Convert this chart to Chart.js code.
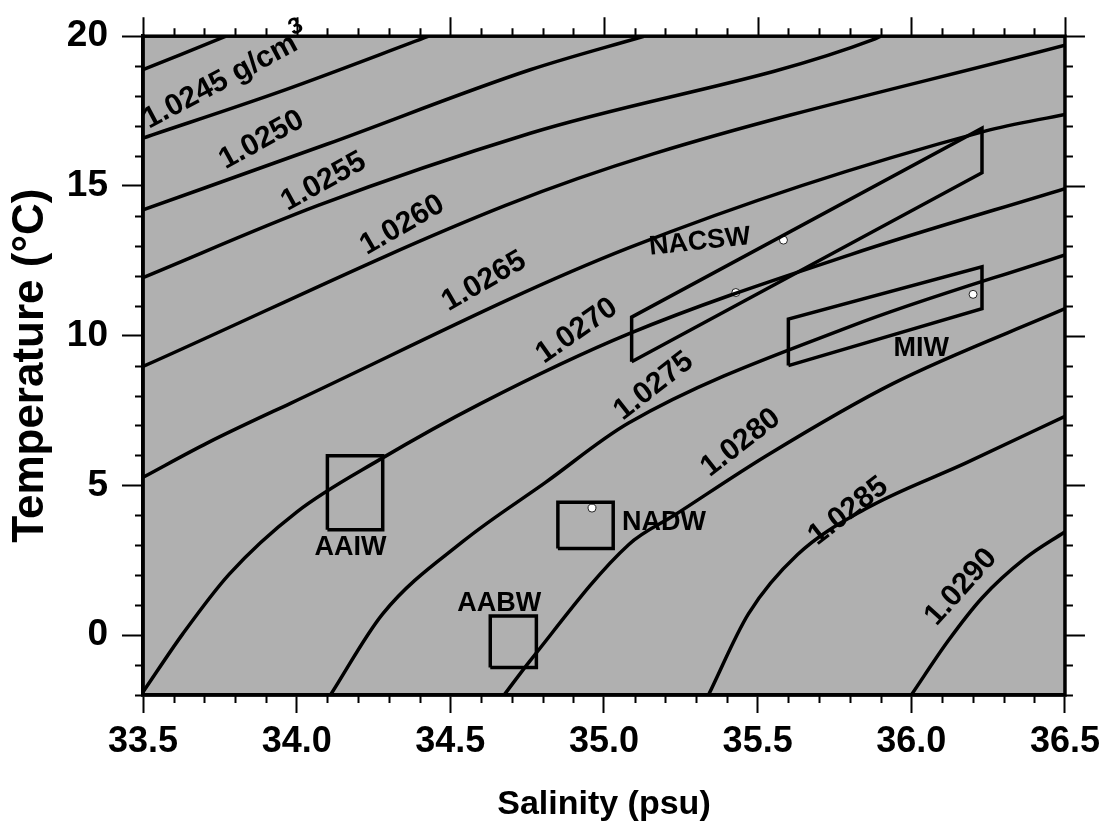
<!DOCTYPE html>
<html>
<head>
<meta charset="utf-8">
<script src="https://cdn.jsdelivr.net/npm/chart.js@4.4.1/dist/chart.umd.min.js"></script>
<style>
html,body{margin:0;padding:0;background:#fff;}
#wrap{width:1107px;height:830px;position:relative;}
</style>
</head>
<body>
<div id="wrap"><canvas id="c" width="1107" height="830"></canvas></div>
<script>
// ---- axis ticks ----
const xTickValues = [33.5, 34.0, 34.5, 35.0, 35.5, 36.0, 36.5];
const xTickLabels = ['33.5', '34.0', '34.5', '35.0', '35.5', '36.0', '36.5'];
const yTickValues = [0, 5, 10, 15, 20];
const yTickLabels = ['0', '5', '10', '15', '20'];

// ---- isopycnals: [salinity, temperature] ----
const iso10240 = [[33.5, 18.88], [33.77, 20.0]];
const iso10245 = [[33.5, 16.6], [33.96, 18.2], [34.43, 20.0]];
const iso10250 = [[33.5, 14.2], [34.1, 16.4], [34.76, 18.88], [35.13, 20.0]];
const iso10255 = [[33.5, 11.94], [34.07, 14.35], [34.76, 16.76], [35.88, 19.9], [35.9, 20.0]];
const iso10260 = [[33.5, 8.97], [34.68, 14.35], [35.16, 16.07], [36.5, 19.7]];
const iso10265 = [[33.5, 5.27], [33.71, 6.42], [33.98, 7.74], [35.08, 12.93], [36.24, 16.83], [36.5, 17.39]];
const iso10270 = [[33.5, -1.9], [33.63, 0.05], [33.78, 2.03], [34.0, 4.11], [34.27, 5.86], [34.6, 7.74], [35.08, 10.06], [35.8, 12.7], [36.5, 14.91]];
const iso10275 = [[34.11, -2.0], [34.28, 0.71], [34.54, 3.12], [34.81, 5.1], [35.08, 7.08], [35.8, 10.3], [36.5, 12.7]];
const iso10280 = [[34.675, -2.0], [34.76, -0.85], [35.08, 3.02], [35.23, 4.01], [35.53, 6.0], [35.94, 8.4], [36.5, 10.9]];
const iso10285 = [[35.34, -2.0], [35.47, 0.71], [35.63, 2.69], [35.85, 4.21], [36.18, 5.76], [36.5, 7.31]];
const iso10290 = [[36.0, -2.0], [36.12, -0.19], [36.23, 1.24], [36.37, 2.56], [36.5, 3.45]];
const isopycnals = [iso10240, iso10245, iso10250, iso10255, iso10260, iso10265, iso10270, iso10275, iso10280, iso10285, iso10290];

// ---- water mass boxes: [salinity, temperature] corners ----
const boxAAIW = [[34.1, 3.52], [34.1, 5.99], [34.28, 5.99], [34.28, 3.52]];
const boxAABW = [[34.63, -1.08], [34.63, 0.64], [34.78, 0.64], [34.78, -1.08]];
const boxNADW = [[34.85, 2.89], [34.85, 4.44], [35.03, 4.44], [35.03, 2.89]];
const boxNACSW = [[35.09, 9.13], [35.09, 10.62], [36.23, 16.93], [36.23, 15.44]];
const boxMIW = [[35.6, 9.0], [35.6, 10.55], [36.23, 12.3], [36.23, 10.9]];
const waterBoxes = [boxAAIW, boxAABW, boxNADW, boxNACSW, boxMIW];

// ---- small white sample marks seen in the figure ----
const sampleMarks = [[35.584, 13.19], [35.429, 11.44], [34.961, 4.24], [36.201, 11.38]];

// ---- text annotations (data coordinates) ----
const contourLabels = [
  {text: '1.0245 g/cm', sup: '3', s: 33.77, t: 18.58, angle: 28},
  {text: '1.0250', s: 33.886, t: 16.53, angle: 29},
  {text: '1.0255', s: 34.088, t: 15.14, angle: 29},
  {text: '1.0260', s: 34.344, t: 13.69, angle: 30},
  {text: '1.0265', s: 34.61, t: 11.81, angle: 30},
  {text: '1.0270', s: 34.912, t: 10.16, angle: 35},
  {text: '1.0275', s: 35.162, t: 8.31, angle: 38},
  {text: '1.0280', s: 35.445, t: 6.42, angle: 38},
  {text: '1.0285', s: 35.795, t: 4.14, angle: 38},
  {text: '1.0290', s: 36.162, t: 1.60, angle: 48}
];
const waterLabels = [
  {text: 'NACSW', s: 35.312, t: 13.13, angle: 6},
  {text: 'MIW', s: 36.032, t: 9.56, angle: 0},
  {text: 'AAIW', s: 34.175, t: 2.92, angle: 0},
  {text: 'NADW', s: 35.195, t: 3.75, angle: 0},
  {text: 'AABW', s: 34.659, t: 1.07, angle: 0}
];

const FONT = "'Liberation Sans', Arial, Helvetica, sans-serif";
const PLOT_BG = '#b0b0b0';

const toPts = arr => arr.map(([s, t]) => ({x: s, y: t}));

const datasets = [];
isopycnals.forEach(arr => datasets.push({
  data: toPts(arr), showLine: true, borderColor: '#000', borderWidth: 3.5,
  pointRadius: 0, cubicInterpolationMode: 'monotone', fill: false
}));
waterBoxes.forEach(arr => datasets.push({
  data: toPts(arr.concat([arr[0]])), showLine: true, borderColor: '#000', borderWidth: 3.5,
  pointRadius: 0, tension: 0, fill: false
}));
datasets.push({
  data: toPts(sampleMarks), showLine: false, pointRadius: 4,
  pointBackgroundColor: '#fff', pointBorderColor: '#222', pointBorderWidth: 1
});

const decorPlugin = {
  id: 'decor',
  beforeDraw(chart) {
    const {ctx, chartArea: a} = chart;
    ctx.save();
    ctx.fillStyle = PLOT_BG;
    ctx.fillRect(a.left, a.top, a.right - a.left, a.bottom - a.top);
    ctx.restore();
  },
  afterDatasetsDraw(chart) {
    const {ctx, scales: {x, y}} = chart;
    ctx.save();
    ctx.fillStyle = '#000';
    ctx.textAlign = 'center';
    ctx.textBaseline = 'middle';
    contourLabels.forEach(l => {
      const px = x.getPixelForValue(l.s), py = y.getPixelForValue(l.t);
      ctx.save();
      ctx.translate(px, py);
      ctx.rotate(-l.angle * Math.PI / 180);
      ctx.font = 'bold 30px ' + FONT;
      if (l.sup) {
        const w = ctx.measureText(l.text).width;
        ctx.font = 'bold 23px ' + FONT;
        const ws = ctx.measureText(l.sup).width;
        const total = w + ws;
        ctx.textAlign = 'left';
        ctx.font = 'bold 30px ' + FONT;
        ctx.fillText(l.text, -total / 2, 0);
        ctx.font = 'bold 23px ' + FONT;
        ctx.fillText(l.sup, -total / 2 + w + 1, -13);
      } else {
        ctx.fillText(l.text, 0, 0);
      }
      ctx.restore();
    });
    ctx.font = 'bold 27px ' + FONT;
    waterLabels.forEach(l => {
      const px = x.getPixelForValue(l.s), py = y.getPixelForValue(l.t);
      ctx.save();
      ctx.translate(px, py);
      ctx.rotate(-l.angle * Math.PI / 180);
      ctx.fillText(l.text, 0, 0);
      ctx.restore();
    });
    ctx.restore();
  },
  afterDraw(chart) {
    const {ctx, chartArea: a, scales: {x, y}} = chart;
    ctx.save();
    ctx.strokeStyle = '#000';
    ctx.lineWidth = 3.5;
    ctx.strokeRect(a.left, a.top, a.right - a.left, a.bottom - a.top);
    ctx.lineWidth = 2;
    ctx.beginPath();
    for (let i = 0; i <= 30; i++) {
      const v = 33.5 + i * 0.1;
      const px = Math.round(x.getPixelForValue(v)) + 0.5;
      const major = i % 5 === 0;
      if (!major) { ctx.moveTo(px, a.bottom); ctx.lineTo(px, a.bottom + 8); }
      ctx.moveTo(px, a.top); ctx.lineTo(px, a.top - (major ? 19 : 8));
    }
    for (let v = -2; v <= 20; v++) {
      const py = Math.round(y.getPixelForValue(v)) + 0.5;
      const major = v % 5 === 0;
      if (!major) { ctx.moveTo(a.left, py); ctx.lineTo(a.left - 8, py); }
      ctx.moveTo(a.right, py); ctx.lineTo(a.right + (major ? 20 : 8), py);
    }
    ctx.stroke();
    ctx.restore();
  }
};

new Chart(document.getElementById('c'), {
  type: 'scatter',
  data: {datasets},
  options: {
    responsive: false,
    animation: false,
    devicePixelRatio: 1,
    layout: {padding: {top: 29, right: 40, bottom: 0, left: 0}},
    plugins: {legend: {display: false}, tooltip: {enabled: false}},
    scales: {
      x: {
        type: 'linear', position: 'bottom', min: 33.5, max: 36.5,
        afterFit: s => { s.height = 135; },
        afterBuildTicks: s => { s.ticks = xTickValues.map(v => ({value: v})); },
        ticks: {
          autoSkip: false, maxRotation: 0, padding: 7, color: '#000',
          font: {family: FONT, size: 36, weight: 'bold'},
          callback: v => xTickLabels[xTickValues.indexOf(v)]
        },
        grid: {drawOnChartArea: false, drawTicks: true, tickLength: 18, tickWidth: 2, tickColor: '#000'},
        border: {display: true, color: '#000', width: 3.5},
        title: {display: true, text: 'Salinity (psu)', color: '#000',
          font: {family: FONT, size: 34, weight: 'bold'}, padding: {top: 0, bottom: 5}}
      },
      y: {
        type: 'linear', position: 'left', min: -2, max: 20,
        afterFit: s => { s.width = 143; },
        afterBuildTicks: s => { s.ticks = yTickValues.map(v => ({value: v})); },
        ticks: {
          autoSkip: false, padding: 14, color: '#000',
          font: {family: FONT, size: 37, weight: 'bold'},
          callback: v => yTickLabels[yTickValues.indexOf(v)]
        },
        grid: {drawOnChartArea: false, drawTicks: true, tickLength: 21, tickWidth: 2, tickColor: '#000'},
        border: {display: true, color: '#000', width: 3.5},
        title: {display: true, text: 'Temperature (°C)', color: '#000',
          font: {family: FONT, size: 44, weight: 'bold'}, padding: {top: 4, bottom: 0}}
      }
    }
  },
  plugins: [decorPlugin]
});
</script>
</body>
</html>
